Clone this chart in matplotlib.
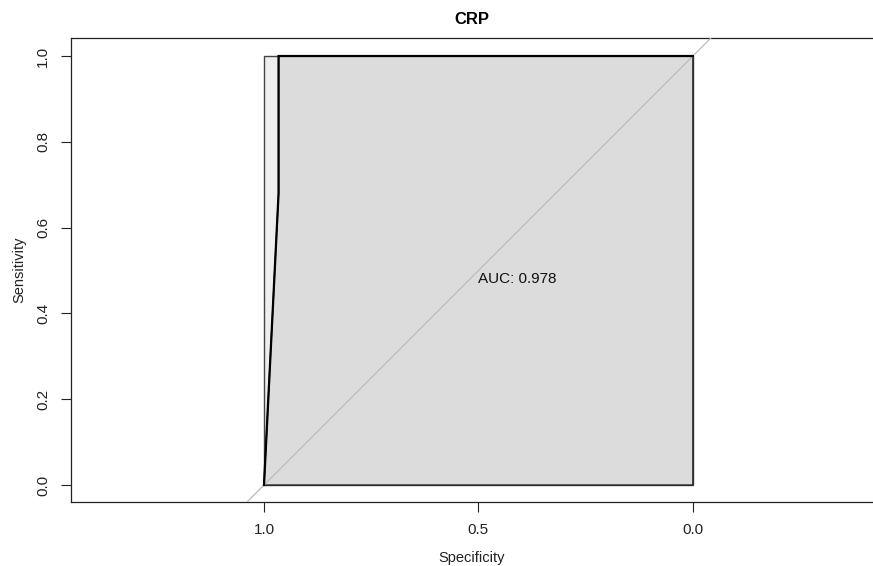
import matplotlib
matplotlib.use("Agg")
import matplotlib.pyplot as plt
from matplotlib.patches import Polygon

plt.rcParams["font.family"] = ["Liberation Sans", "DejaVu Sans"]

# ROC curve for CRP (specificity, sensitivity)
specificity = [1.0, 0.966, 0.966, 0.0]
sensitivity = [0.0, 0.68, 1.0, 1.0]
auc = 0.978

fig = plt.figure(figsize=(8.73, 5.66), dpi=100)
ax = fig.add_axes([71 / 873, 64 / 566, 802 / 873, 464 / 566])

# max possible AUC (light) and actual AUC (darker) polygons
max_poly = Polygon([(1, 0), (1, 1), (0, 1), (0, 0)], closed=True,
                   facecolor="#EEEEEE", edgecolor="#444444", lw=1.0, zorder=1)
ax.add_patch(max_poly)
auc_pts = list(zip(specificity, sensitivity)) + [(0.0, 0.0)]
auc_poly = Polygon(auc_pts, closed=True, facecolor="#DCDCDC",
                   edgecolor="#222222", lw=1.0, zorder=2)
ax.add_patch(auc_poly)

# chance line
ax.axline((1, 0), (0, 1), color="#BBBBBB", lw=0.9, zorder=3)

ax.plot(specificity, sensitivity, color="black", lw=1.6, zorder=4,
        solid_joinstyle="miter")

ax.text(0.5, 0.497, f"AUC: {auc:.3f}", ha="left", va="top", fontsize=11,
        color="#111111", zorder=5)

ax.set_xlim(1.45, -0.42)
ax.set_ylim(-0.0396, 1.042)
ax.set_xticks([1.0, 0.5, 0.0])
ax.set_xticklabels(["1.0", "0.5", "0.0"])
ax.set_yticks([0.0, 0.2, 0.4, 0.6, 0.8, 1.0])
ax.set_yticklabels(["0.0", "0.2", "0.4", "0.6", "0.8", "1.0"], rotation=90,
                   va="center")
ax.tick_params(length=7, width=0.8, labelsize=11, colors="#222222", pad=8)
for s in ax.spines.values():
    s.set_linewidth(0.9)
    s.set_color("#222222")
ax.spines["right"].set_visible(False)

ax.set_xlabel("Specificity", fontsize=10.5, labelpad=10, color="#222222")
ax.set_ylabel("Sensitivity", fontsize=10.5, labelpad=7, color="#222222")
ax.set_title("CRP", fontsize=12, fontweight="bold", pad=10)

fig.savefig("out.png", dpi=100)
